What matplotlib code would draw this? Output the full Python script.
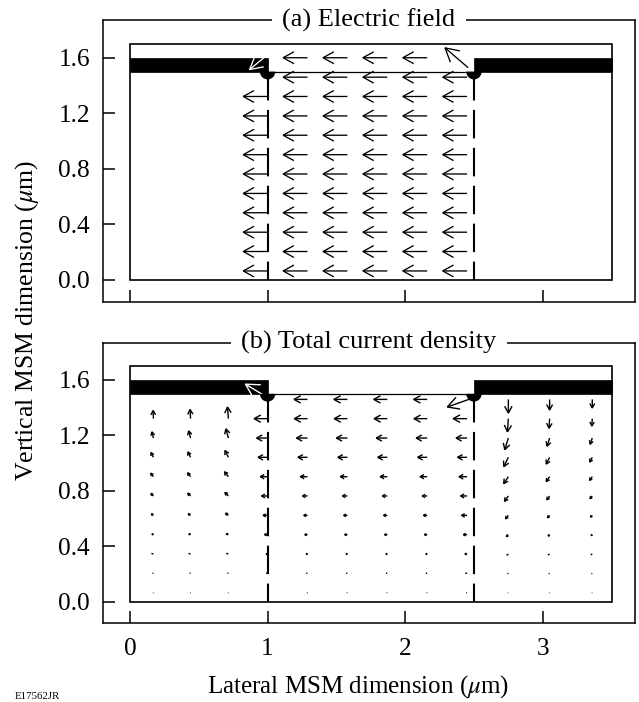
import matplotlib
matplotlib.use("Agg")
import matplotlib.pyplot as plt
from matplotlib.patches import Rectangle, Wedge, FancyArrowPatch
import numpy as np

plt.rcParams['font.family'] = ['Liberation Serif', 'DejaVu Serif']
plt.rcParams['mathtext.fontset'] = 'stix'
plt.rcParams['lines.scale_dashes'] = False

# ---------------- data ----------------
x_ticks = [0, 1, 2, 3]
y_ticks = [0.0, 0.4, 0.8, 1.2, 1.6]
y_ticklabels = ['0.0', '0.4', '0.8', '1.2', '1.6']
titles = ['(a) Electric field', '(b) Total current density']
xlabel = r'Lateral MSM dimension ($\mu$m)'
ylabel = r'Vertical MSM dimension ($\mu$m)'
figure_id = 'E17562JR'

# device geometry (um)
device_width = 3.5
device_height = 1.7
surface_y = 1.5
electrode_top = 1.6
gap_left = 1.0
gap_right = 2.5

# vector grid (um)
x_grid = [0.17, 0.44, 0.715, 1.0, 1.29, 1.58, 1.87, 2.16, 2.45, 2.75, 3.05, 3.36]
y_grid = [0.065, 0.205, 0.344, 0.484, 0.623, 0.763, 0.902, 1.042, 1.181, 1.321, 1.46, 1.6]

# (a) electric field (normalised), rows bottom -> top
ea_x = [
    [0, 0, 0, -1, -1, -1, -1, -1, -1, 0, 0, 0],
    [0, 0, 0, -1, -1, -1, -1, -1, -1, 0, 0, 0],
    [0, 0, 0, -1, -1, -1, -1, -1, -1, 0, 0, 0],
    [0, 0, 0, -1, -1, -1, -1, -1, -1, 0, 0, 0],
    [0, 0, 0, -1, -1, -1, -1, -1, -1, 0, 0, 0],
    [0, 0, 0, -1, -1, -1, -1, -1, -1, 0, 0, 0],
    [0, 0, 0, -1, -1, -1, -1, -1, -1, 0, 0, 0],
    [0, 0, 0, -1, -1, -1, -1, -1, -1, 0, 0, 0],
    [0, 0, 0, -1, -1, -1, -1, -1, -1, 0, 0, 0],
    [0, 0, 0, -1, -1, -1, -1, -1, -1, 0, 0, 0],
    [0, 0, 0, 0, -1, -1, -1, -1, -1, 0, 0, 0],
    [0, 0, 0, 0, -1, -1, -1, -1, 0, 0, 0, 0],
]
ea_y = [
    [0, 0, 0, 0, 0, 0, 0, 0, 0, 0, 0, 0],
    [0, 0, 0, 0, 0, 0, 0, 0, 0, 0, 0, 0],
    [0, 0, 0, 0, 0, 0, 0, 0, 0, 0, 0, 0],
    [0, 0, 0, 0, 0, 0, 0, 0, 0, 0, 0, 0],
    [0, 0, 0, 0, 0, 0, 0, 0, 0, 0, 0, 0],
    [0, 0, 0, 0, 0, 0, 0, 0, 0, 0, 0, 0],
    [0, 0, 0, 0, 0, 0, 0, 0, 0, 0, 0, 0],
    [0, 0, 0, 0, 0, 0, 0, 0, 0, 0, 0, 0],
    [0, 0, 0, 0, 0, 0, 0, 0, 0, 0, 0, 0],
    [0, 0, 0, 0, 0, 0, 0, 0, 0, 0, 0, 0],
    [0, 0, 0, 0, 0, 0, 0, 0, 0, 0, 0, 0],
    [0, 0, 0, 0, 0, 0, 0, 0, 0, 0, 0, 0],
]
ea_scale = 0.187
# corner field vectors: x, y, ex, ey, colour
ea_corner = [(1.03, 1.647, -0.90, -0.74, 'white'),
             (2.458, 1.528, -0.94, 0.80, 'black')]

# (b) total current density (relative units), rows bottom -> top
jb_x = [
    [-0.5, -0.5, -0.5, -0.7, -0.6, -0.6, -0.6, -0.6, -0.8, -0.4, -0.4, -0.4],
    [-1.0, -1.0, -1.1, -1.5, -1.3, -1.3, -1.3, -1.3, -1.8, -1.0, -0.9, -0.8],
    [-2.0, -2.0, -2.2, -3.0, -2.8, -2.8, -2.8, -2.8, -3.6, -1.8, -1.7, -1.5],
    [-2.8, -3.0, -3.3, -4.5, -4.2, -4.2, -4.2, -4.2, -5.2, -3.0, -2.5, -2.3],
    [-3.2, -3.5, -4.0, -6.0, -5.2, -5.2, -5.2, -5.2, -7.0, -3.8, -3.2, -2.8],
    [-3.5, -3.8, -4.5, -7.5, -6.5, -6.5, -6.5, -6.5, -8.0, -4.7, -3.7, -3.2],
    [-3.5, -3.8, -4.8, -8.8, -8.6, -8.6, -8.6, -8.6, -9.6, -5.5, -4.2, -3.6],
    [-3.0, -3.3, -4.0, -11.0, -11.0, -11.0, -11.0, -11.0, -11.0, -5.2, -4.0, -3.2],
    [-1.8, -2.2, -2.8, -12.5, -12.5, -12.5, -12.5, -12.5, -12.5, -4.0, -3.0, -2.6],
    [-0.4, -0.6, -1.0, -15.0, -14.7, -14.7, -14.7, -14.7, -15.4, -1.0, -0.7, -0.5],
    [0, 0, 0, 0, -15.0, -15.0, -15.0, -15.0, 0, 0, 0, 0],
    [0, 0, 0, 0, 0, 0, 0, 0, 0, 0, 0, 0],
]
jb_y = [
    [0.0, 0.0, 0.0, 0.0, 0.0, 0.0, 0.0, 0.0, 0.0, -0.2, -0.2, -0.1],
    [0.2, 0.2, 0.2, 0.0, 0.0, 0.0, 0.0, 0.0, 0.0, -0.6, -0.5, -0.4],
    [0.6, 0.6, 0.7, 0.0, 0.0, 0.0, 0.0, 0.0, 0.0, -1.3, -1.0, -0.8],
    [1.2, 1.4, 1.6, 0.0, 0.0, 0.0, 0.0, 0.0, 0.0, -3.0, -2.4, -1.8],
    [2.3, 2.5, 3.0, 0.0, 0.0, 0.0, 0.0, 0.0, 0.0, -4.5, -3.4, -2.8],
    [3.5, 3.7, 4.5, 0.0, 0.0, 0.0, 0.0, 0.0, 0.0, -6.5, -5.0, -3.8],
    [4.6, 5.0, 6.0, 0.0, 0.0, 0.0, 0.0, 0.0, 0.0, -8.0, -6.0, -4.8],
    [6.0, 6.6, 8.0, 0.0, 0.0, 0.0, 0.0, 0.0, 0.0, -10.5, -8.0, -6.0],
    [7.5, 8.5, 10.5, 0.0, 0.0, 0.0, 0.0, 0.0, 0.0, -13.0, -9.5, -7.5],
    [9.5, 10.5, 13.0, 0.0, 0.0, 0.0, 0.0, 0.0, 0.0, -14.5, -11.0, -8.8],
    [0, 0, 0, 0, 0.0, 0.0, 0.0, 0.0, 0, -15.0, -12.0, -10.0],
    [0, 0, 0, 0, 0, 0, 0, 0, 0, 0, 0, 0],
]
jb_scale = 1.0 / 138.0
jb_corner = [(1.03, 1.455, -27.6, 16.6, 'white'),
             (2.483, 1.467, -25.7, -9.0, 'black')]

# ---------------- figure ----------------
fig = plt.figure(figsize=(6.39, 7.02), dpi=100)
ax_a = fig.add_axes([0.1615, 0.5705, 0.8321, 0.4007])
ax_b = fig.add_axes([0.1615, 0.1123, 0.8321, 0.3997])


def draw_arrow(ax, x, y, dx, dy, color, lw, head=0.42):
    p0 = ax.transData.transform((x, y))
    p1 = ax.transData.transform((x + dx, y + dy))
    L = np.hypot(*(p1 - p0)) * 72.0 / fig.dpi
    if L < 0.2:
        return
    if L < 1.8:
        style = '-'
    else:
        hl = head * L
        hw = 0.55 * hl
        style = f'->,head_length={hl:.3f},head_width={hw:.3f}'
    ax.add_patch(FancyArrowPatch((x, y), (x + dx, y + dy), arrowstyle=style,
                                 mutation_scale=1, lw=lw, color=color,
                                 shrinkA=0, shrinkB=0, zorder=4,
                                 capstyle='butt', joinstyle='miter'))


def setup(ax, title, show_xlabels):
    ax.set_xlim(-0.195, 3.67)
    ax.set_ylim(-0.155, 1.87)
    for s in ax.spines.values():
        s.set_linewidth(1.1)
    ax.set_xticks(x_ticks)
    ax.set_yticks(y_ticks)
    ax.set_yticklabels(y_ticklabels)
    if not show_xlabels:
        ax.set_xticklabels([])
    ax.tick_params(direction='in', length=8.4, width=1.1, labelsize=18.3,
                   top=False, right=False)
    ax.tick_params(axis='y', pad=9.5)
    ax.tick_params(axis='x', pad=10.5)
    ax.text(0.5, 1.0, title, transform=ax.transAxes, ha='center', va='center',
            fontsize=19, zorder=3.5, clip_on=False,
            bbox=dict(boxstyle='square,pad=0.4', fc='white', ec='none'))
    # device outline
    ax.add_patch(Rectangle((0, 0), device_width, device_height, fill=False,
                           lw=1.2, ec='black', zorder=5))
    # electrodes
    ax.add_patch(Rectangle((0, surface_y), gap_left, electrode_top - surface_y,
                           fc='black', ec='black', lw=0.5, zorder=3))
    ax.add_patch(Rectangle((gap_right, surface_y), device_width - gap_right,
                           electrode_top - surface_y, fc='black', ec='black',
                           lw=0.5, zorder=3))
    # semiconductor surface in the gap
    ax.plot([gap_left, gap_right], [surface_y, surface_y], color='black',
            lw=0.9, zorder=3)
    # electrode edges (dashed) and corner discs
    for xe in (gap_left, gap_right):
        ax.plot([xe, xe], [surface_y, 0], color='black', lw=1.5,
                dashes=(20.5, 6.8), solid_capstyle='butt',
                dash_capstyle='butt', zorder=5)
        ax.add_patch(Wedge((xe, surface_y), 0.056, 180, 360, fc='black',
                           ec='none', zorder=5))


setup(ax_a, titles[0], False)
setup(ax_b, titles[1], True)

for r, yv in enumerate(y_grid):
    for c, xv in enumerate(x_grid):
        u, v = ea_x[r][c], ea_y[r][c]
        if u != 0 or v != 0:
            draw_arrow(ax_a, xv, yv, u * ea_scale, v * ea_scale, 'black', 0.95)
        u, v = jb_x[r][c], jb_y[r][c]
        if u != 0 or v != 0:
            draw_arrow(ax_b, xv, yv, u * jb_scale, v * jb_scale, 'black', 1.0,
                       head=0.45)

for (x0, y0, u, v, col) in ea_corner:
    draw_arrow(ax_a, x0, y0, u * ea_scale, v * ea_scale, col, 0.95)
for (x0, y0, u, v, col) in jb_corner:
    draw_arrow(ax_b, x0, y0, u * jb_scale, v * jb_scale, col, 1.0)

fig.text(27 / 639, 1 - 320 / 702, ylabel, rotation=90, ha='center',
         va='center', fontsize=18.5)
fig.text(358 / 639, 1 - 693 / 702, xlabel, ha='center', va='baseline',
         fontsize=18)
fig.text(15 / 639, 1 - 699 / 702, figure_id, ha='left', va='baseline',
         fontsize=7.8)

fig.savefig('out.png', dpi=100)
